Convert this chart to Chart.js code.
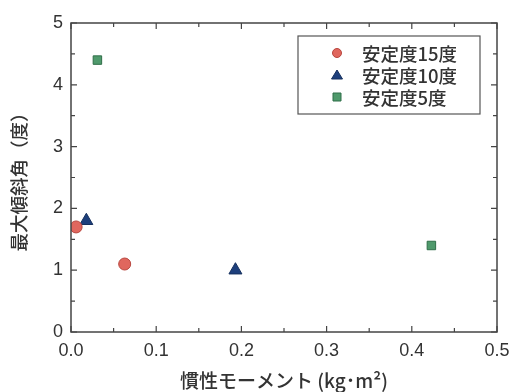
<!DOCTYPE html>
<html>
<head>
<meta charset="UTF-8">
<title>慣性モーメントと最大傾斜角</title>
<script src="https://cdn.jsdelivr.net/npm/chart.js"></script>
<style>
  body { margin: 0; background: #fff; }
  #wrap { width: 510px; height: 392px; }
</style>
</head>
<body>
<div id="wrap"><canvas id="chart"></canvas></div>
<script>
// data
const seriesNames = ['安定度15度', '安定度10度', '安定度5度'];
const inertia15 = [0.006, 0.063];
const angle15 = [1.7, 1.1];
const inertia10 = [0.018, 0.193];
const angle10 = [1.8, 1.0];
const inertia5 = [0.031, 0.423];
const angle5 = [4.4, 1.4];

const xTicks = [0, 0.1, 0.2, 0.3, 0.4, 0.5];
const yTicks = [0, 1, 2, 3, 4, 5];

const jp = '"Noto Sans CJK JP", sans-serif';
const num = '"Liberation Sans", Arial, sans-serif';
const ink = '#333';

function pts(xs, ys) {
  return xs.map((x, i) => ({ x: x, y: ys[i] }));
}

// inward ticks on all four sides + frame
const frameTicks = {
  id: 'frameTicks',
  afterDatasetsDraw(chart) {
    const { ctx, chartArea: a, scales } = chart;
    const x = scales.x, y = scales.y;
    ctx.save();
    ctx.strokeStyle = '#444';
    ctx.lineWidth = 1.5;
    ctx.strokeRect(a.left, a.top, a.right - a.left, a.bottom - a.top);
    ctx.lineWidth = 1.2;
    for (let v = 0; v <= 0.5001; v += 0.05) {
      const px = x.getPixelForValue(v);
      const len = Math.round(v * 20) % 2 === 0 ? 6 : 4;
      ctx.beginPath();
      ctx.moveTo(px, a.bottom); ctx.lineTo(px, a.bottom - len);
      ctx.moveTo(px, a.top); ctx.lineTo(px, a.top + len);
      ctx.stroke();
    }
    for (let v = 0; v <= 5.001; v += 0.5) {
      const py = y.getPixelForValue(v);
      const len = Math.round(v * 2) % 2 === 0 ? 6 : 4;
      ctx.beginPath();
      ctx.moveTo(a.left, py); ctx.lineTo(a.left + len, py);
      ctx.moveTo(a.right, py); ctx.lineTo(a.right - len, py);
      ctx.stroke();
    }
    ctx.restore();
  }
};

// boxed legend inside the plot, top right
const boxLegend = {
  id: 'boxLegend',
  afterDraw(chart) {
    const { ctx, chartArea: a } = chart;
    const bx = a.right - 199, by = a.top + 13, bw = 182, bh = 78;
    ctx.save();
    ctx.fillStyle = '#fff';
    ctx.fillRect(bx, by, bw, bh);
    ctx.strokeStyle = '#555';
    ctx.lineWidth = 1.2;
    ctx.strokeRect(bx, by, bw, bh);
    ctx.font = '500 18.5px ' + jp;
    ctx.textBaseline = 'middle';
    chart.data.datasets.forEach((ds, i) => {
      const cy = by + 17 + i * 22;
      const cx = bx + 39;
      ctx.fillStyle = ds.backgroundColor;
      ctx.strokeStyle = ds.borderColor;
      ctx.lineWidth = 1;
      ctx.beginPath();
      if (ds.pointStyle === 'circle') {
        ctx.arc(cx, cy, 4.5, 0, Math.PI * 2);
      } else if (ds.pointStyle === 'triangle') {
        ctx.moveTo(cx, cy - 5); ctx.lineTo(cx + 5.5, cy + 4); ctx.lineTo(cx - 5.5, cy + 4); ctx.closePath();
      } else {
        ctx.rect(cx - 4, cy - 4, 8, 8);
      }
      ctx.fill(); ctx.stroke();
      ctx.fillStyle = ink;
      ctx.fillText(ds.label, bx + 64, cy + 1);
    });
    ctx.restore();
  }
};

new Chart(document.getElementById('chart'), {
  type: 'scatter',
  data: {
    datasets: [
      { label: seriesNames[0], data: pts(inertia15, angle15), pointStyle: 'circle', pointRadius: 6,
        backgroundColor: '#e0675e', borderColor: '#b8463e', borderWidth: 1 },
      { label: seriesNames[1], data: pts(inertia10, angle10), pointStyle: 'triangle', pointRadius: 7.5,
        backgroundColor: '#1d3f7c', borderColor: '#16305e', borderWidth: 1 },
      { label: seriesNames[2], data: pts(inertia5, angle5), pointStyle: 'rect', pointRadius: 6,
        backgroundColor: '#4f9a6c', borderColor: '#2f6e48', borderWidth: 1 }
    ]
  },
  options: {
    responsive: true,
    maintainAspectRatio: false,
    animation: false,
    layout: { padding: { left: 0, top: 23, right: 13, bottom: 0 } },
    plugins: { legend: { display: false }, tooltip: { enabled: false } },
    scales: {
      x: {
        type: 'linear', min: 0, max: 0.5,
        afterBuildTicks: s => { s.ticks = xTicks.map(v => ({ value: v })); },
        afterFit: s => { s.height = 60; s.paddingLeft = 0; s.paddingRight = 0; },
        grid: { display: false, drawTicks: false },
        border: { display: false },
        ticks: { color: ink, font: { family: num, size: 18 }, padding: 8,
                 callback: v => v.toFixed(1) },
        title: { display: true, text: '慣性モーメント (kg･m²)', color: ink,
                 font: { family: jp, size: 19, weight: '500' }, padding: { top: 1, bottom: 0 } }
      },
      y: {
        type: 'linear', min: 0, max: 5,
        afterBuildTicks: s => { s.ticks = yTicks.map(v => ({ value: v })); },
        afterFit: s => { s.width = 71; s.paddingTop = 0; s.paddingBottom = 0; },
        grid: { display: false, drawTicks: false },
        border: { display: false },
        ticks: { color: ink, font: { family: num, size: 18 }, padding: 8 },
        title: { display: true, text: '最大傾斜角（度）', color: ink,
                 font: { family: jp, size: 18.5, weight: '500' }, padding: { top: 8, bottom: 6 } }
      }
    }
  },
  plugins: [frameTicks, boxLegend]
});
</script>
</body>
</html>
